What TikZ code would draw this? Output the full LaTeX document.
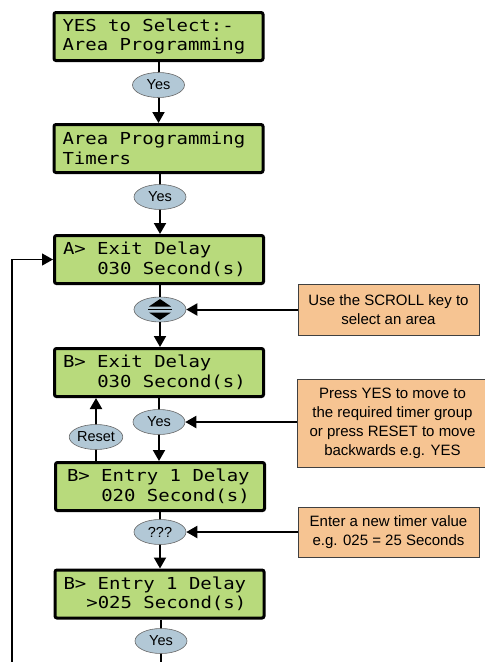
\documentclass[tikz,border=0pt]{standalone}
\usepackage{fontspec}
\setmainfont{Liberation Sans}
\newfontfamily\lcdfont[FakeStretch=1.15]{DejaVu Sans Mono}
\protected\def\lcdsetup{\lcdfont\fontsize{16.5}{19.5}\selectfont}
\protected\def\lcdspace{\spaceskip=11.39pt\xspaceskip=11.39pt\relax}
\usetikzlibrary{arrows.meta,shapes.geometric}
\definecolor{lcdgreen}{RGB}{184,218,124}
\definecolor{keyblue}{RGB}{178,200,214}
\definecolor{noteorange}{RGB}{246,196,146}
\tikzset{
  lcd/.style={draw=black, line width=3pt, fill=lcdgreen, rounded corners=2pt,
    minimum width=209pt, minimum height=48pt, text width=192pt, align=left,
    inner sep=0pt, font=\lcdsetup, execute at begin node=\lcdspace},
  key/.style={ellipse, draw=black!60, line width=0.6pt, fill=keyblue,
    minimum width=52pt, minimum height=25pt, inner sep=0pt,
    font=\fontsize{14.5}{14.5}\selectfont},
  note/.style={draw=black!75, line width=0.8pt, fill=noteorange,
    minimum width=181pt, align=center, inner sep=0pt,
    font=\fontsize{15}{19}\selectfont},
  flow/.style={line width=2pt},
  arr/.style={flow, -{Triangle[length=11pt,width=12pt]}},
  loopline/.style={line width=1.2pt, -{Triangle[length=11pt,width=12pt]}}
}
\begin{document}
\begin{tikzpicture}[x=1pt,y=-1pt]
\useasboundingbox (0,0) rectangle (485,662);

\node[lcd] (b1) at (158.5,36.5) {YES to Select:-\\Area Programming};
\node[key] (y1) at (158.5,85) {Yes};
\node[lcd] (b2) at (158.5,148.5) {Area Programming\\Timers};
\node[key] (y2) at (160,197) {Yes};
\node[lcd] (b3) at (159,259.5) {A> Exit Delay\\\hphantom{xxx}030 Second(s)};
\node[key] (sc) at (160,309.5) {};
\node[lcd] (b4) at (159,372.5) {B> Exit Delay\\\hphantom{xxx}030 Second(s)};
\node[key] (y3) at (159,422) {Yes};
\node[key] (rs) at (96,437) {Reset};
\node[lcd] (b5) at (160,486.5) {\hspace{3pt}B> Entry 1 Delay\\\hspace{3pt}\hphantom{xxx}020 Second(s)};
\node[key] (q) at (160,532) {???};
\node[lcd] (b6) at (159.5,594) {B> Entry 1 Delay\\\hphantom{xx}>025 Second(s)};
\node[key] (y4) at (161,641) {Yes};

% scroll symbol
\fill (sc.center) ++(-11,-3) -- ++(22,0) -- ++(-11,-7.5) -- cycle;
\fill (sc.center) ++(-11,3) -- ++(22,0) -- ++(-11,7.5) -- cycle;
\draw[line width=1pt] (sc.center) ++(-12,0) -- ++(24,0);

\node[note, minimum height=51pt] (n1) at (388.5,309.5) {Use the SCROLL key to\\select an area};
\node[note, minimum height=88pt, minimum width=191pt] (n2) at (392.5,423) {Press YES to move to\\the required timer group\\or press RESET to move\\backwards e.g. YES};
\node[note, minimum height=50pt] (n3) at (388.5,532) {Enter a new timer value\\e.g. 025 = 25 Seconds};

% main flow
\draw[flow] (b1.south) -- (y1.north);
\draw[arr] (y1.south) -- (b2.north);
\draw[flow] (b2.south -| y2) -- (y2.north);
\draw[arr] (y2.south) -- (y2.south |- b3.north);
\draw[flow] (b3.south -| sc) -- (sc.north);
\draw[arr] (sc.south) -- (sc.south |- b4.north);
\draw[flow] (b4.south -| y3) -- (y3.north);
\draw[arr] (y3.south) -- (y3.south |- b5.north);
\draw[flow] (b5.south -| q) -- (q.north);
\draw[arr] (q.south) -- (q.south |- b6.north);
\draw[flow] (b6.south -| y4) -- (y4.north);
\coordinate (end) at (161,662);
\draw[flow] (y4.south) -- (end);

% reset
\draw[flow] (b5.north -| rs) -- (rs.south);
\draw[arr] (rs.north) -- (rs.north |- b4.south);

% notes
\draw[arr] (n1.west) -- (sc.east);
\draw[arr] (y3.east -| n2.west) -- (y3.east);
\draw[arr] (n3.west) -- (q.east);

% loop back
\coordinate (lb) at (12,662);
\draw[loopline] (lb) |- (b3.west);
\end{tikzpicture}
\end{document}
